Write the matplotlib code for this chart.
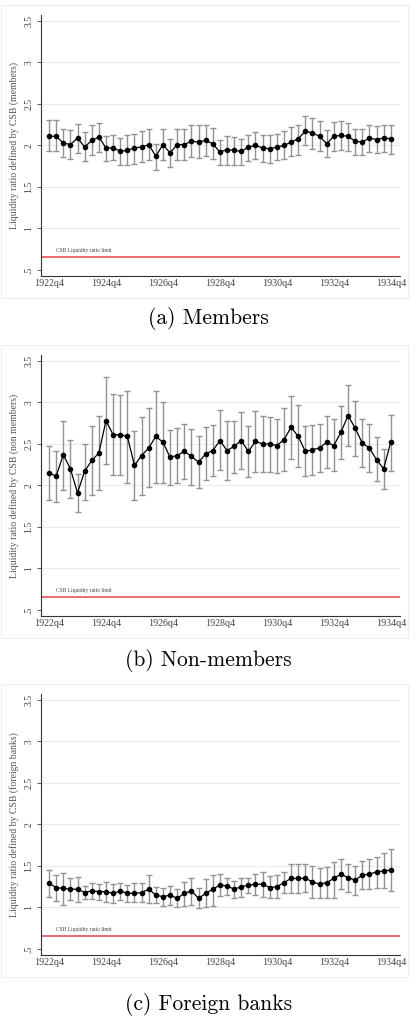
import numpy as np
import matplotlib
matplotlib.use("Agg")
import matplotlib.pyplot as plt
from matplotlib.patches import Rectangle

# quarterly observations 1922q4 .. 1934q4
quarters = [f"{1922 + (i + 3) // 4}q{(i + 3) % 4 + 1}" for i in range(49)]
tick_labels = ["1922q4", "1924q4", "1926q4", "1928q4", "1930q4", "1932q4", "1934q4"]

members_mean = [2.11, 2.11, 2.03, 2.01, 2.09, 1.98, 2.06, 2.10, 1.97, 1.97, 1.93, 1.94, 1.97,
                1.98, 2.01, 1.87, 2.01, 1.91, 2.01, 2.01, 2.05, 2.04, 2.06, 2.02, 1.92,
                1.95, 1.94, 1.93, 1.98, 2.00, 1.97, 1.96, 1.98, 2.00, 2.04, 2.08, 2.17,
                2.15, 2.11, 2.02, 2.11, 2.12, 2.11, 2.05, 2.04, 2.09, 2.07, 2.09, 2.08]
members_hi = [2.30, 2.31, 2.20, 2.19, 2.26, 2.16, 2.24, 2.27, 2.11, 2.12, 2.09, 2.12, 2.14,
              2.17, 2.20, 2.02, 2.20, 2.08, 2.20, 2.20, 2.25, 2.24, 2.25, 2.21, 2.07,
              2.11, 2.10, 2.08, 2.13, 2.16, 2.12, 2.12, 2.14, 2.17, 2.22, 2.25, 2.36,
              2.33, 2.29, 2.18, 2.28, 2.29, 2.27, 2.20, 2.20, 2.25, 2.23, 2.25, 2.25]
members_lo = [1.93, 1.93, 1.86, 1.84, 1.91, 1.81, 1.88, 1.92, 1.81, 1.82, 1.76, 1.76, 1.78,
              1.80, 1.82, 1.71, 1.82, 1.74, 1.82, 1.82, 1.86, 1.85, 1.87, 1.84, 1.76,
              1.77, 1.76, 1.76, 1.81, 1.84, 1.80, 1.79, 1.82, 1.84, 1.87, 1.89, 2.00,
              1.96, 1.93, 1.86, 1.93, 1.94, 1.93, 1.89, 1.88, 1.92, 1.91, 1.92, 1.90]

nonmem_mean = [2.15, 2.11, 2.37, 2.20, 1.91, 2.17, 2.30, 2.39, 2.78, 2.61, 2.61, 2.59, 2.24,
               2.36, 2.45, 2.59, 2.52, 2.34, 2.36, 2.41, 2.35, 2.28, 2.38, 2.42, 2.54,
               2.42, 2.47, 2.54, 2.41, 2.53, 2.50, 2.50, 2.48, 2.55, 2.70, 2.59, 2.41,
               2.43, 2.45, 2.52, 2.48, 2.64, 2.84, 2.69, 2.51, 2.45, 2.31, 2.20, 2.52]
nonmem_hi = [2.48, 2.42, 2.78, 2.55, 2.14, 2.50, 2.71, 2.83, 3.30, 3.10, 3.09, 3.14, 2.66,
             2.82, 2.93, 3.14, 3.01, 2.67, 2.69, 2.74, 2.68, 2.60, 2.70, 2.73, 2.91,
             2.77, 2.78, 2.88, 2.72, 2.89, 2.83, 2.82, 2.80, 2.93, 3.08, 2.97, 2.71,
             2.73, 2.74, 2.83, 2.80, 2.96, 3.21, 3.02, 2.80, 2.74, 2.58, 2.44, 2.85]
nonmem_lo = [1.83, 1.80, 1.95, 1.85, 1.68, 1.83, 1.89, 1.95, 2.26, 2.12, 2.12, 2.03, 1.82,
             1.89, 1.98, 2.03, 2.03, 2.00, 2.03, 2.08, 2.01, 1.97, 2.06, 2.11, 2.18,
             2.07, 2.15, 2.20, 2.10, 2.16, 2.16, 2.16, 2.15, 2.17, 2.32, 2.22, 2.11,
             2.13, 2.16, 2.21, 2.17, 2.32, 2.48, 2.36, 2.22, 2.16, 2.05, 1.96, 2.17]

foreign_mean = [1.29, 1.24, 1.23, 1.22, 1.22, 1.18, 1.20, 1.19, 1.19, 1.17, 1.20, 1.17, 1.17,
                1.18, 1.22, 1.15, 1.13, 1.15, 1.11, 1.17, 1.20, 1.11, 1.17, 1.22, 1.27,
                1.26, 1.22, 1.25, 1.27, 1.28, 1.28, 1.24, 1.25, 1.30, 1.35, 1.35, 1.35,
                1.31, 1.28, 1.30, 1.35, 1.40, 1.36, 1.33, 1.39, 1.40, 1.43, 1.44, 1.45]
foreign_hi = [1.455, 1.39, 1.41, 1.35, 1.37, 1.26, 1.29, 1.28, 1.31, 1.28, 1.30, 1.27, 1.29,
              1.30, 1.39, 1.25, 1.23, 1.26, 1.22, 1.31, 1.36, 1.23, 1.34, 1.39, 1.40,
              1.36, 1.32, 1.36, 1.36, 1.40, 1.43, 1.38, 1.39, 1.43, 1.52, 1.52, 1.52,
              1.50, 1.47, 1.49, 1.55, 1.58, 1.52, 1.50, 1.56, 1.58, 1.61, 1.65, 1.70]
foreign_lo = [1.13, 1.08, 1.03, 1.09, 1.07, 1.10, 1.10, 1.09, 1.07, 1.06, 1.09, 1.07, 1.07,
              1.07, 1.06, 1.05, 1.02, 1.03, 1.01, 1.02, 1.03, 0.99, 1.00, 1.02, 1.14,
              1.15, 1.12, 1.13, 1.17, 1.15, 1.13, 1.12, 1.12, 1.17, 1.18, 1.18, 1.19,
              1.12, 1.11, 1.11, 1.12, 1.22, 1.19, 1.15, 1.22, 1.22, 1.24, 1.23, 1.20]

csb_limit = 0.66

panels = [
    ("members", "(a) Members", members_mean, members_lo, members_hi),
    ("non members", "(b) Non-members", nonmem_mean, nonmem_lo, nonmem_hi),
    ("foreign banks", "(c) Foreign banks", foreign_mean, foreign_lo, foreign_hi),
]
# axes boxes in pixels (top, bottom) and caption y, for a 417x1024 canvas
boxes = [(15, 276, 319), (355, 616, 660), (694, 955, 1004)]

W, H = 417, 1024
fig = plt.figure(figsize=(W / 100, H / 100), dpi=100)
serif = ["Liberation Serif", "DejaVu Serif"]

for (grp, caption, mean, lo, hi), (top, bot, capy) in zip(panels, boxes):
    # faint graph-region frame
    fig.patches.append(Rectangle((1 / W, 1 - (bot + 22) / H), 407 / W, (bot + 22 - top + 10) / H,
                                 transform=fig.transFigure, fill=False,
                                 edgecolor="#eeeeee", linewidth=0.8))
    ax = fig.add_axes([40.5 / W, 1 - bot / H, 359.5 / W, (bot - top) / H])
    x = np.arange(len(quarters))
    mean = np.array(mean)
    yerr = [mean - np.array(lo), np.array(hi) - mean]
    ax.errorbar(x, mean, yerr=yerr, fmt="none", ecolor="#929292", elinewidth=1.0,
                capsize=2.0, capthick=1.0, zorder=2)
    ax.plot(x, mean, color="black", lw=0.9, marker="o", ms=3.0, zorder=3)
    ax.axhline(csb_limit, color="#ec6b6b", lw=1.4, zorder=1)
    ax.text(1.0, csb_limit + 0.04, "CSB Liquidity ratio limit", fontsize=4.0,
            family=serif, color="#444444", va="bottom")

    ax.set_ylim(0.428, 3.57)
    ax.set_xlim(-1.2, 49.3)
    yt = [0.5, 1, 1.5, 2, 2.5, 3, 3.5]
    ax.set_yticks(yt)
    ax.set_yticklabels([".5", "1", "1.5", "2", "2.5", "3", "3.5"], rotation=90,
                       va="center", family=serif, fontsize=7, color="#444444")
    for v in yt[1:]:
        ax.axhline(v, color="#ececec", lw=0.8, zorder=0)
    ax.set_xticks([quarters.index(t) for t in tick_labels])
    ax.set_xticklabels(tick_labels, family=serif, fontsize=7.2, color="#444444")
    ax.tick_params(axis="y", length=3, width=0.6, pad=2, colors="#444444")
    ax.tick_params(axis="x", length=0, pad=2)
    for s in ["top", "right"]:
        ax.spines[s].set_visible(False)
    for s in ["left", "bottom"]:
        ax.spines[s].set_linewidth(0.8)
        ax.spines[s].set_color("#333333")
    ax.set_ylabel(f"Liquidity ratio defined by CSB ({grp})", family=serif, fontsize=7.0,
                  color="#555555", labelpad=4)

    fig.text(0.5, 1 - capy / H, caption, ha="center", va="center",
             family=["cmr10", "DejaVu Serif"], fontsize=15.5)

fig.savefig("out.png", dpi=100)
